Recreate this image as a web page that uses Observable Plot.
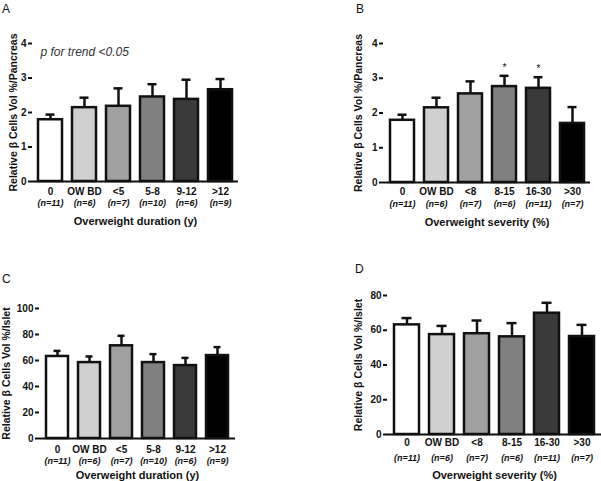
<!DOCTYPE html>
<html>
<head>
<meta charset="utf-8">
<script src="https://cdn.jsdelivr.net/npm/d3@7"></script>
<script src="https://cdn.jsdelivr.net/npm/@observablehq/plot@0.6"></script>
<style>
  body { margin: 0; background: #fff; }
  #wrap { position: relative; width: 601px; height: 481px; overflow: hidden; background: #fff; font-family: "Liberation Sans", Arial, sans-serif; }
  .pane { position: absolute; }
  .letter { position: absolute; font-size: 12px; line-height: 12px; color: #111; }
</style>
</head>
<body>
<div id="wrap"></div>
<script>
// ---- data ----
const catsDuration = ["0", "OW BD", "<5", "5-8", "9-12", ">12"];
const catsSeverity = ["0", "OW BD", "<8", "8-15", "16-30", ">30"];
const nDuration = ["(n=11)", "(n=6)", "(n=7)", "(n=10)", "(n=6)", "(n=9)"];
const nSeverity = ["(n=11)", "(n=6)", "(n=7)", "(n=6)", "(n=11)", "(n=7)"];
const barFills = ["#ffffff", "#d0d0d0", "#a0a0a0", "#808080", "#3a3a3a", "#000000"];

const aMean = [1.79, 2.14, 2.18, 2.45, 2.38, 2.66];
const aUpper = [1.94, 2.43, 2.70, 2.82, 2.95, 2.97];
const bMean = [1.79, 2.15, 2.55, 2.76, 2.71, 1.70];
const bUpper = [1.95, 2.44, 2.91, 3.07, 3.03, 2.17];
const bSig = ["", "", "", "*", "*", ""];
const cMean = [63.1, 58.4, 71.3, 58.4, 56.1, 63.8];
const cUpper = [67.4, 63.1, 79.0, 64.9, 62.0, 70.3];
const dMean = [63.1, 57.5, 58.0, 56.2, 69.8, 56.4];
const dUpper = [67.0, 62.5, 65.6, 64.1, 75.8, 63.1];

const ticksPancreas = [0, 1, 2, 3, 4];
const ticksIsletC = [0, 20, 40, 60, 80, 100];
const ticksIsletD = [0, 20, 40, 60, 80];

const yTitlePancreas = "Relative β Cells Vol %/Pancreas";
const yTitleIslet = "Relative β Cells Vol %/Islet";
const xTitleDuration = "Overweight duration (y)";
const xTitleSeverity = "Overweight severity (%)";
const trendNote = "p for trend <0.05";

// ---- drawing ----
const FONT = "Liberation Sans, Arial, Helvetica, sans-serif";
const INK = "#111";

function panel(o) {
  const rows = o.cats.map((c, i) => ({cat: c, n: o.ns[i], mean: o.mean[i], upper: o.upper[i], sig: o.sig ? o.sig[i] : ""}));
  const marks = [
    Plot.ruleX(rows, {x: "cat", y1: "mean", y2: "upper", stroke: INK, strokeWidth: 2.5}),
    Plot.tickY(rows, {x: "cat", y: "upper", stroke: INK, strokeWidth: 2.5, insetLeft: 7.5, insetRight: 7.5}),
    Plot.barY(rows, {x: "cat", y: "mean", fill: "cat", stroke: INK, strokeWidth: 2.5}),
    Plot.ruleY([o.yDomain[0]], {stroke: INK, strokeWidth: 2}),
    Plot.axisY({ticks: o.yTicks, tickFormat: "d", tickSize: 4, tickPadding: 2, fontSize: 10, fontWeight: "bold", line: true, label: null, stroke: INK, strokeWidth: 2, color: INK}),
    Plot.text(rows, {x: "cat", text: "cat", frameAnchor: "bottom", dy: o.tickDy, lineAnchor: "middle", fontSize: 10, fontWeight: "bold", fill: INK}),
    Plot.text(rows, {x: "cat", text: "n", frameAnchor: "bottom", dy: o.nDy, lineAnchor: "middle", fontSize: 9, fontWeight: "bold", fontStyle: "italic", fill: INK}),
    Plot.text([o.xTitle], {text: d => d, frameAnchor: "bottom", dy: o.titleDy, lineAnchor: "middle", textAnchor: "middle", fontSize: 11, fontWeight: "bold", fill: INK}),
    Plot.text([o.yTitle], {text: d => d, frameAnchor: "left", dx: o.yTitleDx, rotate: -90, lineAnchor: "middle", textAnchor: "middle", fontSize: 10.5, fontWeight: "bold", fill: INK})
  ];
  if (o.sig) marks.push(Plot.text(rows, {x: "cat", y: "upper", text: "sig", dy: -8, lineAnchor: "middle", fontSize: 10, fill: INK}));
  if (o.note) marks.push(Plot.text([o.note], {text: d => d, frameAnchor: "top-left", dx: 8, dy: 9, textAnchor: "start", lineAnchor: "middle", fontSize: 12, fontStyle: "italic", fill: "#333"}));
  const svg = Plot.plot({
    width: o.width, height: o.height,
    marginTop: o.mt, marginRight: o.mr, marginBottom: o.mb, marginLeft: o.ml,
    style: {fontFamily: FONT, background: "transparent", overflow: "visible"},
    x: {domain: o.cats, paddingInner: 0.3, paddingOuter: 0.15, axis: null},
    y: {domain: o.yDomain, axis: null},
    color: {domain: o.cats, range: barFills},
    marks
  });
  const div = document.createElement("div");
  div.className = "pane";
  div.style.left = o.left + "px";
  div.style.top = o.top + "px";
  div.appendChild(svg);
  document.getElementById("wrap").appendChild(div);
}

panel({left: 0, top: 0, width: 300, height: 240, ml: 32, mr: 62, mt: 43, mb: 59,
  cats: catsDuration, ns: nDuration, mean: aMean, upper: aUpper, yDomain: [0, 4], yTicks: ticksPancreas,
  xTitle: xTitleDuration, yTitle: yTitlePancreas, yTitleDx: -19, tickDy: 10, nDy: 22, titleDy: 40, note: trendNote});
panel({left: 300, top: 0, width: 301, height: 240, ml: 83, mr: 11, mt: 43, mb: 58,
  cats: catsSeverity, ns: nSeverity, mean: bMean, upper: bUpper, sig: bSig, yDomain: [0, 4], yTicks: ticksPancreas,
  xTitle: xTitleSeverity, yTitle: yTitlePancreas, yTitleDx: -24.5, tickDy: 9, nDy: 21.5, titleDy: 40});
panel({left: 0, top: 240, width: 300, height: 241, ml: 39, mr: 65, mt: 68, mb: 43,
  cats: catsDuration, ns: nDuration, mean: cMean, upper: cUpper, yDomain: [0, 100], yTicks: ticksIsletC,
  xTitle: xTitleDuration, yTitle: yTitleIslet, yTitleDx: -33, tickDy: 11, nDy: 22.5, titleDy: 37});
panel({left: 300, top: 240, width: 301, height: 241, ml: 87, mr: 0, mt: 55, mb: 47,
  cats: catsSeverity, ns: nSeverity, mean: dMean, upper: dUpper, yDomain: [0, 80], yTicks: ticksIsletD,
  xTitle: xTitleSeverity, yTitle: yTitleIslet, yTitleDx: -29, tickDy: 8, nDy: 24, titleDy: 41});

// panel letters
[["A", 2, 3], ["B", 356, 3], ["C", 2, 273], ["D", 355, 263]].forEach(([t, x, y]) => {
  const d = document.createElement("div");
  d.className = "letter";
  d.textContent = t;
  d.style.left = x + "px";
  d.style.top = y + "px";
  document.getElementById("wrap").appendChild(d);
});
</script>
</body>
</html>
